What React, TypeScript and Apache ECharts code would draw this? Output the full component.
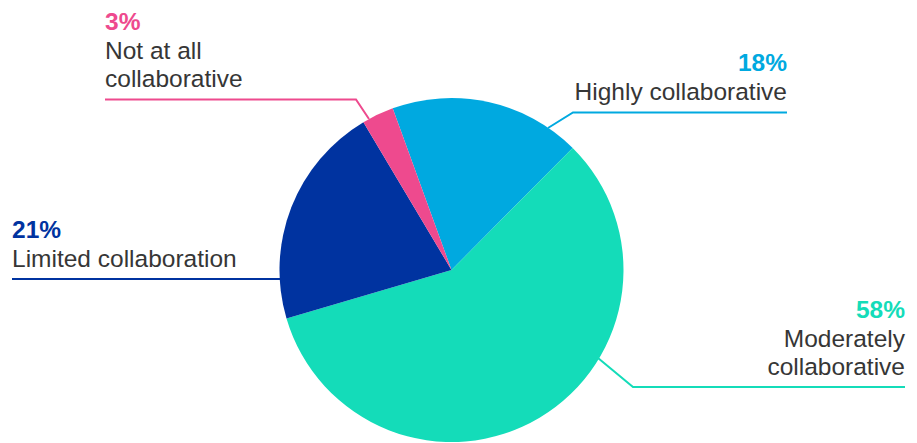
import React, { useEffect, useRef } from "react";
import * as echarts from "echarts";

const categories = [
  "Highly collaborative",
  "Moderately\ncollaborative",
  "Limited collaboration",
  "Not at all\ncollaborative",
];
const values = [18, 58, 21, 3];
const colors = ["#00a9e0", "#14dcb9", "#0033a0", "#ee4a8e"];

// label layout (positions only)
const labelLayouts = [
  { x: 787, lineY: 112.5, align: "right", line: [[548, 128], [573, 112.5], [787, 112.5]] },
  { x: 905, lineY: 387, align: "right", line: [[598, 358], [633, 387], [905, 387]] },
  { x: 12, lineY: 279, align: "left", line: [[281, 279], [280, 279], [12, 279]] },
  { x: 105, lineY: 99.5, align: "left", line: [[369, 119], [356, 99.5], [105, 99.5]] },
];

export default function App() {
  const ref = useRef<HTMLDivElement>(null);
  useEffect(() => {
    if (!ref.current) return;
    const chart = echarts.init(ref.current, null, { renderer: "svg" });
    const font = "'Liberation Sans', Arial, Helvetica, sans-serif";
    chart.setOption({
      animation: false,
      backgroundColor: "#ffffff",
      series: [
        {
          type: "pie",
          center: [451.5, 270],
          radius: [0, 172],
          startAngle: 110,
          clockwise: true,
          avoidLabelOverlap: false,
          silent: true,
          itemStyle: { borderWidth: 0 },
          labelLine: { show: true, lineStyle: { width: 2 } },
          data: categories.map((name, i) => ({
            name,
            value: values[i],
            itemStyle: { color: colors[i] },
            labelLine: { lineStyle: { color: colors[i], width: 2 } },
            label: {
              show: true,
              formatter: "{p|{c}%}\n{n|{b}}",
              fontFamily: font,
              align: labelLayouts[i].align,
              rich: {
                p: {
                  fontFamily: font,
                  fontSize: 24.5,
                  fontWeight: "bold",
                  color: colors[i],
                  lineHeight: 30,
                  align: labelLayouts[i].align,
                },
                n: {
                  fontFamily: font,
                  fontSize: 24.5,
                  color: "#363636",
                  lineHeight: 28,
                  align: labelLayouts[i].align,
                },
              },
            },
          })),
          labelLayout: (params: any) => {
            const l = labelLayouts[params.dataIndex];
            return {
              x: l.x,
              y: l.lineY - 7,
              align: l.align,
              verticalAlign: "bottom",
              labelLinePoints: l.line,
            };
          },
        },
      ],
    });
    return () => chart.dispose();
  }, []);
  return (
    <div
      ref={ref}
      style={{ position: "fixed", left: 0, top: 0, width: 917, height: 443 }}
    />
  );
}
